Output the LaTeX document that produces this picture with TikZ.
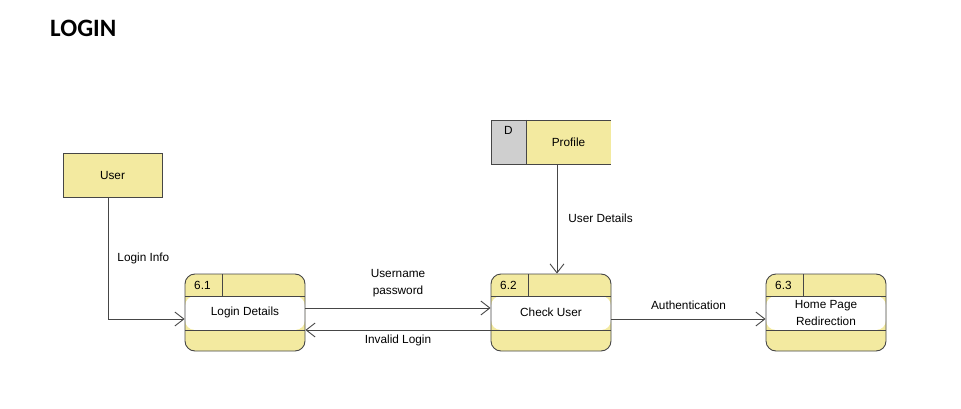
\documentclass[tikz,border=0pt]{standalone}
\usepackage{fontspec}
\setmainfont{Liberation Sans}
\newfontfamily\titlefont{Carlito}
\usetikzlibrary{arrows.meta}
\definecolor{dfdyellow}{RGB}{243,234,160}
\definecolor{dfdgray}{RGB}{207,207,207}
\definecolor{dfdline}{RGB}{70,70,70}

\begin{document}
\begin{tikzpicture}[
                        x=1pt, y=-1pt,
                        >={Straight Barb[length=9pt,width=14pt]},
                        every node/.style={font=\fontsize{11.8}{17}\selectfont, inner sep=0pt},
                        flow/.style={->, draw=dfdline, line width=0.9pt},
                        entity/.style={rectangle, draw=dfdline, line width=0.9pt, fill=dfdyellow,
                                       minimum width=99pt, minimum height=44pt},
                        process/.style={rectangle, draw=dfdline, line width=0.9pt, fill=dfdyellow,
                                        rounded corners=10pt, minimum width=120pt, minimum height=77pt,
                                        align=center,
                                        path picture={
                                            \fill[white] ([yshift=-22pt]path picture bounding box.north west)
                                                rectangle ([yshift=21pt]path picture bounding box.south east);
                                            \draw[dfdline, line width=0.9pt]
                                                ([yshift=-22pt]path picture bounding box.north west)
                                                -- ([yshift=-22pt]path picture bounding box.north east)
                                                ([yshift=21pt]path picture bounding box.south west)
                                                -- ([yshift=21pt]path picture bounding box.south east)
                                                ([xshift=37pt]path picture bounding box.north west)
                                                -- ([xshift=37pt,yshift=-22pt]path picture bounding box.north west);
                                        }},
                        procid/.style={anchor=west}
                    ]
                    \useasboundingbox (0,0) rectangle (961,409);

                    % Title
                    \node [anchor=west, font=\titlefont\bfseries\fontsize{25}{25}\selectfont] (title) at (50,28) {LOGIN};

                    % Blocks
                    \node [entity] (user) at (112.5,175) {User};

                    \fill [dfdyellow] (491,120) rectangle (611,164);
                    \fill [dfdgray] (491,120) rectangle (526,164);
                    \draw [dfdline, line width=0.9pt] (611,120) -- (491,120) -- (491,164) -- (611,164)
                                                       (526,120) -- (526,164);
                    \node (storeid) at (508.5,130) {D};
                    \node (profile) at (568.5,142) {Profile};
                    \coordinate (profilebot) at (557,164);

                    \node [process] (p61) at (245,312.5) {Login Details};
                    \node [procid] (p61id) at (194,285) {6.1};
                    \node [process] (p62) at (551,312.5) {Check User};
                    \node [procid] (p62id) at (500,285) {6.2};
                    \node [process] (p63) at (826,312.5) {Home Page\\Redirection};
                    \node [procid] (p63id) at (775,285) {6.3};

                    % Connections
                    \draw [flow] (user.south -| 108,0) |- node[pos=0.25, right=9pt]{Login Info} ([yshift=-6.5pt]p61.west);
                    \draw [flow] ([yshift=4.5pt]p61.east) -- node[above=11pt, align=center]{Username\\password} ([yshift=4.5pt]p62.west);
                    \draw [flow] ([yshift=-17.5pt]p62.west) -- node[below=4pt]{Invalid Login} ([yshift=-17.5pt]p61.east);
                    \draw [flow] (profilebot) -- node[right=11pt]{User Details} (p62.north -| profilebot);
                    \draw [flow] ([yshift=-6.5pt]p62.east) -- node[above=9pt]{Authentication} ([yshift=-6.5pt]p63.west);
                \end{tikzpicture}
\end{document}
